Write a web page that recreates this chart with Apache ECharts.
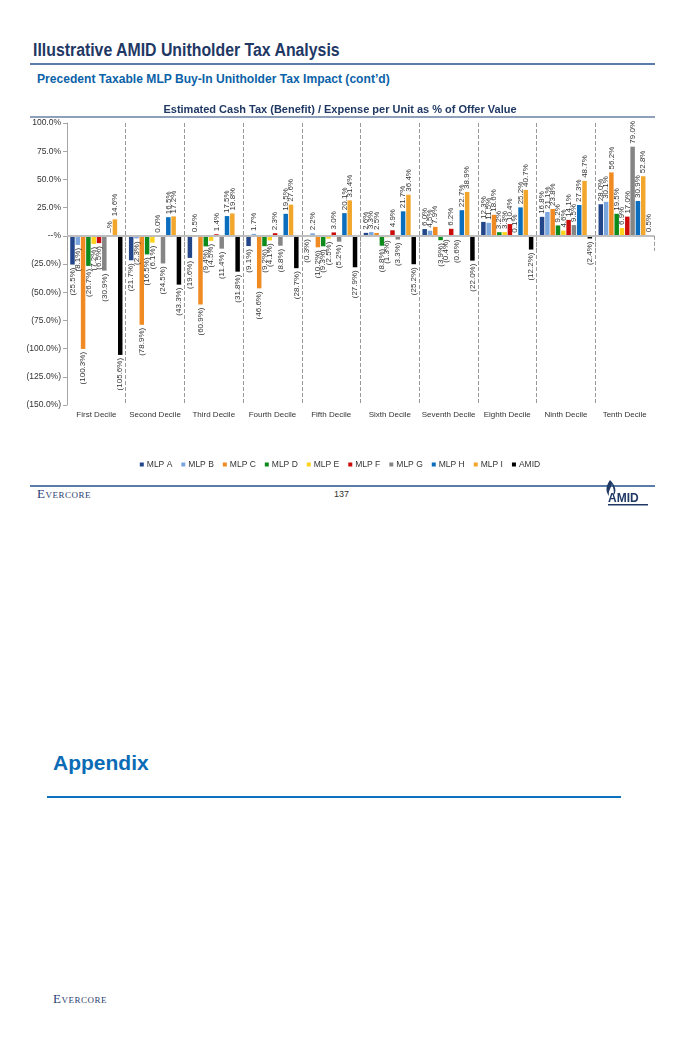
<!DOCTYPE html>
<html>
<head>
<meta charset="utf-8">
<script src="https://cdn.jsdelivr.net/npm/echarts@6/dist/echarts.min.js"></script>
<style>
  html,body{margin:0;padding:0;background:#fff;}
  body{width:680px;height:1051px;position:relative;overflow:hidden;font-family:'Liberation Sans',Arial,sans-serif;}
  .abs{position:absolute;white-space:nowrap;}
  .ever{font-family:'Liberation Serif','DejaVu Serif',serif;font-variant:small-caps;color:#2C3E73;font-size:13px;letter-spacing:0.5px;}
</style>
</head>
<body>
<div class="abs" style="left:33px;top:40px;font-weight:bold;font-size:18px;color:#1F3864;transform:scaleX(0.88);transform-origin:left top;">Illustrative AMID Unitholder Tax Analysis</div>
<div class="abs" style="left:30px;top:63px;width:625px;height:2px;background:#5B7BA8;"></div>
<div class="abs" style="left:37px;top:71px;font-weight:bold;font-size:13px;color:#0B62A8;transform:scaleX(0.93);transform-origin:left top;">Precedent Taxable MLP Buy-In Unitholder Tax Impact (cont’d)</div>
<div class="abs" style="left:30px;top:116px;width:625px;height:1.5px;background:#8EA0BA;"></div>
<div id="chart" class="abs" style="left:0;top:95px;width:680px;height:385px;"></div>
<div class="abs" style="left:30px;top:485px;width:625px;height:2px;background:#5B7BA8;"></div>
<div class="abs ever" style="left:37px;top:486px;">Evercore</div>
<div class="abs" style="left:334px;top:489px;font-size:9px;color:#333;">137</div>
<div class="abs" style="left:602px;top:478px;width:54px;height:30px;">
  <svg width="54" height="30" viewBox="0 0 54 30">
    <path d="M8 2 C3 9 4 14 7 18 C6 13 9 10 10 6 C11 10 13 13 11 18 C15 14 14 8 8 2 Z" fill="#1F3864"/>
    <text x="6" y="24" font-family="Liberation Sans, Arial" font-weight="bold" font-size="12" fill="#1F3864">AMID</text>
    <rect x="6" y="26" width="40" height="1.5" fill="#1F3864"/>
  </svg>
</div>
<div class="abs" style="left:53px;top:751px;font-weight:bold;font-size:21px;color:#0B6BB5;">Appendix</div>
<div class="abs" style="left:47px;top:796px;width:574px;height:2px;background:#0B72C0;"></div>
<div class="abs ever" style="left:53px;top:991px;">Evercore</div>
<script>
const categories = ['First Decile','Second Decile','Third Decile','Fourth Decile','Fifth Decile','Sixth Decile','Seventh Decile','Eighth Decile','Ninth Decile','Tenth Decile'];
const seriesNames = ['MLP A','MLP B','MLP C','MLP D','MLP E','MLP F','MLP G','MLP H','MLP I','AMID'];
const mlpA = [-25.5, -21.7, -19.6, -9.1, -0.3, 2.6, 6.0, 12.3, 16.8, 28.0];
const mlpB = [-8.1, -2.3, 0.5, 1.7, 2.2, 3.3, 4.5, 11.5, 21.1, 30.1];
const mlpC = [-100.3, -78.9, -60.9, -46.6, -10.2, 2.5, 7.9, 18.6, 23.8, 56.2];
const mlpD = [-26.7, -16.5, -9.4, -9.2, -9.3, -8.8, -3.9, 3.2, 9.2, 19.5];
const mlpE = [-7.2, -6.1, -4.5, -4.1, -2.5, -1.3, -0.4, 3.3, 4.6, 6.9];
const mlpF = [-6.5, 0.04, 1.4, 2.3, 3.0, 4.9, 6.2, 10.4, 14.1, 17.0];
const mlpG = [-30.9, -24.5, -11.4, -8.8, -5.2, -3.3, -0.6, 0.1, 9.5, 79.0];
const mlpH = [0, 16.5, 17.5, 19.5, 20.1, 21.7, 22.7, 25.2, 27.3, 30.9];
const mlpI = [14.6, 17.2, 19.8, 27.6, 31.4, 36.4, 38.9, 40.7, 48.7, 52.8];
const amid = [-105.6, -43.3, -31.8, -28.7, -27.9, -25.2, -22.0, -12.2, -2.4, 0.5];
const yTicks = {min: -150, max: 100, interval: 25};

const seriesData = [mlpA, mlpB, mlpC, mlpD, mlpE, mlpF, mlpG, mlpH, mlpI, amid];
const colors = ['#23468A','#7BA7DE','#F08A22','#0C8A1C','#FFD21E','#CC0B0B','#858585','#0A6DBD','#F2A62C','#000000'];
const FONT = "'Liberation Sans',Arial,sans-serif";

function fmtVal(v){
  if (v === 0) return '–%';
  if (v < 0) return '(' + (-v).toFixed(1) + '%)';
  return v.toFixed(1) + '%';
}
function fmtAxis(v){
  if (v === 0) return '--%';
  if (v < 0) return '(' + (-v).toFixed(1) + '%)';
  return v.toFixed(1) + '%';
}

const series = seriesData.map((arr, i) => ({
  name: seriesNames[i],
  type: 'bar',
  barGap: '18%',
  barCategoryGap: '11%',
  itemStyle: {color: colors[i]},
  data: arr.map(v => ({
    value: v,
    label: {position: v < 0 ? 'bottom' : 'top', align: v < 0 ? 'right' : 'left'}
  })),
  label: {
    show: true,
    rotate: 90,
    verticalAlign: 'middle',
    distance: 3,
    fontSize: 8,
    fontFamily: FONT,
    color: '#333',
    formatter: p => fmtVal(p.value)
  },
  markLine: i === 0 ? {
    silent: true, symbol: 'none', label: {show: false},
    lineStyle: {color: '#BFBFBF', width: 2, type: 'solid'},
    data: [{yAxis: 0}]
  } : undefined
}));

const chart = echarts.init(document.getElementById('chart'));
chart.setOption({
  animation: false,
  color: colors,
  title: {
    text: 'Estimated Cash Tax (Benefit) / Expense per Unit as % of Offer Value',
    left: 'center', top: 4,
    textStyle: {fontSize: 11, fontWeight: 'bold', color: '#1F3864', fontFamily: FONT}
  },
  grid: {left: 67, right: 26, top: 28, bottom: 75},
  legend: {
    top: 360, left: 'center', icon: 'rect', itemWidth: 4, itemHeight: 4, itemGap: 9,
    textStyle: {fontSize: 8.5, color: '#333', fontFamily: FONT, padding: [0,0,0,-2]},
    data: seriesNames
  },
  xAxis: {
    type: 'category', data: categories,
    axisLine: {show: false},
    axisTick: {show: true, interval: 0, length: 15, lineStyle: {color: '#999', type: 'dashed'}},
    splitLine: {show: true, interval: 0, showMinLine: false, showMaxLine: false, lineStyle: {color: '#999', type: 'dashed'}},
    axisLabel: {interval: 0, fontSize: 8, color: '#333', fontFamily: FONT, margin: 6}
  },
  yAxis: {
    type: 'value', min: yTicks.min, max: yTicks.max, interval: yTicks.interval,
    axisLine: {show: true, lineStyle: {color: '#A6A6A6'}},
    axisTick: {show: true, length: 4, lineStyle: {color: '#A6A6A6'}},
    splitLine: {show: false},
    axisLabel: {fontSize: 8.5, color: '#333', fontFamily: FONT, margin: 6, formatter: fmtAxis}
  },
  series: series
});
</script>
</body>
</html>
